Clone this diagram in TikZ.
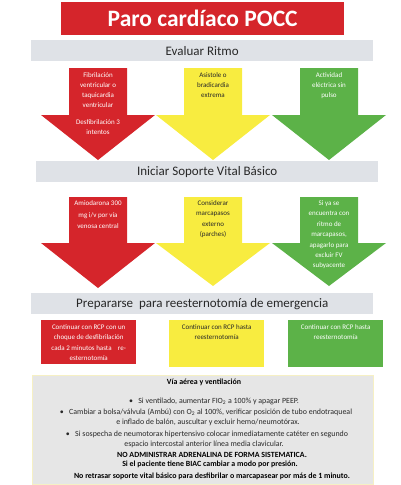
\documentclass[tikz,border=0pt]{standalone}
\usepackage{fontspec}
\setmainfont{Carlito}
\definecolor{pred}{RGB}{213,37,43}
\definecolor{pyel}{RGB}{248,236,64}
\definecolor{pgrn}{RGB}{92,178,72}
\definecolor{pbar}{RGB}{223,226,231}
\definecolor{pbox}{RGB}{230,230,230}
\definecolor{pbord}{RGB}{246,240,196}
\definecolor{ptxt}{RGB}{40,40,40}
\tikzset{
  barbox/.style={fill=pbar, inner sep=0pt, anchor=north west, font=\fontsize{13}{15}\selectfont, text=ptxt},
  arrtxt/.style={anchor=north, align=center, inner sep=0pt, font=\fontsize{7}{10}\selectfont},
  arrtxtb/.style={anchor=north, align=center, inner sep=0pt, font=\fontsize{7}{11.6}\selectfont},
  arrtxtc/.style={anchor=north, align=center, inner sep=0pt, font=\fontsize{7}{10.4}\selectfont},
  ltxt/.style={inner sep=0pt, font=\fontsize{7.9}{9}\selectfont, text=ptxt},
  btxt/.style={inner sep=0pt, font=\fontsize{7.9}{9}\selectfont\bfseries, text=black},
}
\newcommand{\bigarrow}[5]{% #1 center x, #2 top y, #3 head start y, #4 tip y, #5 color
  \fill[#5] (#1-29,#2) -- (#1+29,#2) -- (#1+29,#3) -- (#1+57,#3) -- (#1,#4) -- (#1-57,#3) -- (#1-29,#3) -- cycle;}
\begin{document}
\begin{tikzpicture}[x=1pt,y=-1pt]
\useasboundingbox (0,0) rectangle (400,485);
% title
\node[fill=pred, minimum width=283pt, minimum height=33pt, inner sep=0pt, anchor=north west,
  text=white, font=\fontsize{23.5}{25}\selectfont\bfseries] (title) at (61,2) {Paro cardíaco POCC};
% bar 1
\node[barbox, minimum width=342pt, minimum height=21pt] (bar1) at (31,40) {Evaluar Ritmo};
% row 1 arrows
\bigarrow{98}{68}{115}{160}{pred}
\bigarrow{213}{68}{115}{160}{pyel}
\bigarrow{329}{68}{115}{160}{pgrn}
\node[arrtxt, text=white] (r1a) at (98,72) {Fibrilación\\ventricular o\\taquicardia\\ventricular};
\node[arrtxt, text=white] (r1b) at (98,119.5) {Desfibrilación 3\\intentos};
\node[arrtxt, text=ptxt] (y1) at (213,72) {Asistole o\\bradicardia\\extrema};
\node[arrtxt, text=white] (g1) at (329,72) {Actividad\\eléctrica sin\\pulso};
% bar 2
\node[barbox, minimum width=342pt, minimum height=21pt] (bar2) at (36,161) {Iniciar Soporte Vital Básico};
% row 2 arrows
\bigarrow{98}{197}{243}{288}{pred}
\bigarrow{213}{197}{243}{286}{pyel}
\bigarrow{329}{197}{243}{286}{pgrn}
\node[arrtxtb, text=white] (r2) at (98,200.5) {Amiodarona 300\\mg i/v por vía\\venosa central};
\node[arrtxtc, text=ptxt] (y2) at (213,200.5) {Considerar\\marcapasos\\externo\\(parches)};
\node[arrtxtc, text=white] (g2) at (329,200.5) {Si ya se\\encuentra con\\ritmo de\\marcapasos,\\apagarlo para\\excluir FV\\subyacente};
% bar 3
\node[barbox, minimum width=342pt, minimum height=21pt] (bar3) at (31,293) {Prepararse\ \ para reesternotomía de emergencia};
% row 3 boxes
\node[fill=pred, minimum width=95pt, minimum height=44pt, inner sep=0pt, anchor=north west] (rb) at (41,320) {};
\node[fill=pyel, minimum width=95pt, minimum height=47pt, inner sep=0pt, anchor=north west] (yb) at (169,320) {};
\node[fill=pgrn, minimum width=95pt, minimum height=47pt, inner sep=0pt, anchor=north west] (gb) at (288,320) {};
\node[arrtxtc, text=white] (rbt) at (rb.north |- 0,324.2) {Continuar con RCP con un\\choque de desfibrilación\\cada 2 minutos hasta\ \ \ \ re-\\esternotomía};
\node[arrtxtc, text=ptxt] (ybt) at (yb.north |- 0,324.2) {Continuar con RCP hasta\\reesternotomía};
\node[arrtxtc, text=white] (gbt) at (gb.north |- 0,324.2) {Continuar con RCP hasta\\reesternotomía};
% bottom box
\node[fill=pbox, draw=pbord, line width=1.2pt, minimum width=341pt, minimum height=109pt, inner sep=0pt, anchor=north west] (bb) at (31.5,374.5) {};
\node[btxt] (l0) at (204,382) {Vía aérea y ventilación};
\node[ltxt] (l1) at (214,401) {•\ \ \ Si ventilado, aumentar FIO\textsubscript{2} a 100\% y apagar PEEP.};
\node[ltxt] (l2) at (206,412.5) {•\ \ \ Cambiar a bolsa/válvula (Ambú) con O\textsubscript{2} al 100\%, verificar posición de tubo endotraqueal};
\node[ltxt] (l3) at (208,422.5) {e inflado de balón, auscultar y excluir hemo/neumotórax.};
\node[ltxt] (l4) at (207,434.5) {•\ \ \ Si sospecha de neumotorax hipertensivo colocar inmediatamente catéter en segundo};
\node[ltxt] (l5) at (204,444.5) {espacio intercostal anterior línea media clavicular.};
\node[btxt] (l6) at (212,454.5) {NO ADMINISTRAR ADRENALINA DE FORMA SISTEMATICA.};
\node[btxt] (l7) at (210,464.5) {Si el paciente tiene BIAC cambiar a modo por presión.};
\node[btxt] (l8) at (212,476) {No retrasar soporte vital básico para desfibrilar o marcapasear por más de 1 minuto.};
\end{tikzpicture}
\end{document}
